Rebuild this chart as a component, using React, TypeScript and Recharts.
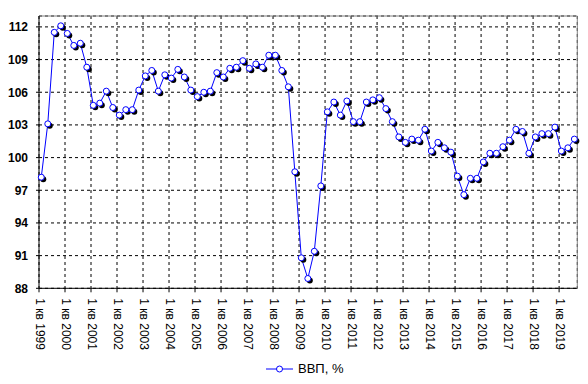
import React from 'react';
import {
  LineChart,
  Line,
  XAxis,
  YAxis,
  CartesianGrid,
  ReferenceLine,
} from 'recharts';

// year labels for the first quarter of each year
const TICK_LABELS = [
  '1 кв 1999', '1 кв 2000', '1 кв 2001', '1 кв 2002', '1 кв 2003', '1 кв 2004',
  '1 кв 2005', '1 кв 2006', '1 кв 2007', '1 кв 2008', '1 кв 2009', '1 кв 2010',
  '1 кв 2011', '1 кв 2012', '1 кв 2013', '1 кв 2014', '1 кв 2015', '1 кв 2016',
  '1 кв 2017', '1 кв 2018', '1 кв 2019',
];

// ВВП, % к соответствующему кварталу прошлого года, 1 кв 1999 .. 3 кв 2019
const GDP = [
  98.2, 103.1, 111.5, 112.1, // 1999
  111.4, 110.3, 110.5, 108.3, // 2000
  104.8, 105.0, 106.1, 104.6, // 2001
  103.9, 104.4, 104.4, 106.2, // 2002
  107.5, 108.0, 106.1, 107.6, // 2003
  107.3, 108.1, 107.4, 106.2, // 2004
  105.6, 106.0, 106.1, 107.8, // 2005
  107.4, 108.2, 108.3, 108.9, // 2006
  108.2, 108.6, 108.3, 109.4, // 2007
  109.4, 108.0, 106.5, 98.7, // 2008
  90.8, 88.9, 91.4, 97.4, // 2009
  104.2, 105.1, 103.9, 105.2, // 2010
  103.3, 103.3, 105.1, 105.3, // 2011
  105.5, 104.5, 103.3, 101.9, // 2012
  101.4, 101.7, 101.6, 102.6, // 2013
  100.6, 101.4, 100.9, 100.5, // 2014
  98.3, 96.6, 98.1, 98.1, // 2015
  99.6, 100.4, 100.4, 101.0, // 2016
  101.6, 102.6, 102.4, 100.4, // 2017
  101.9, 102.2, 102.2, 102.8, // 2018
  100.6, 100.9, 101.7, // 2019
];

const Y_TICKS = [88, 91, 94, 97, 100, 103, 106, 109, 112];

// the original draws its tick marks slightly left of the points
const TICK_SHIFT = -0.35;
const X_MAX = 82.45;

const FONT = '"Liberation Sans", Arial, sans-serif';
const BLUE = '#0000ff';

const data = GDP.map((v, i) => ({ q: i, gdp: v }));
const xTicks = TICK_LABELS.map((_, k) => k * 4 + TICK_SHIFT);

function ShadowDot(props: { cx?: number; cy?: number; index?: number }) {
  const { cx, cy, index } = props;
  if (cx == null || cy == null) return null;
  return (
    <g key={`dot-${index}`}>
      <circle cx={cx + 2} cy={cy + 2} r={3} fill="#000" />
      <circle cx={cx} cy={cy} r={3} fill="#fff" stroke={BLUE} strokeWidth={1} />
    </g>
  );
}

function XTick(props: { x?: number; y?: number; index?: number }) {
  const { x = 0, y = 0, index = 0 } = props;
  const tx = x + 1;
  return (
    <text
      x={tx}
      y={y}
      transform={`rotate(90, ${tx}, ${y})`}
      textAnchor="start"
      dominantBaseline="central"
      fontFamily={FONT}
      fontSize={12}
      fill="#000"
    >
      {TICK_LABELS[index]}
    </text>
  );
}

export default function App() {
  return (
    <div
      style={{
        position: 'absolute',
        left: 0,
        top: 0,
        width: 588,
        height: 384,
        background: '#fff',
      }}
    >
      <LineChart
        width={588}
        height={384}
        data={data}
        margin={{ top: 16, right: 10.7, left: 0, bottom: 33.7 }}
      >
        <CartesianGrid stroke="#000" strokeDasharray="3 3" />
        <ReferenceLine y={113} stroke="#808080" />
        <ReferenceLine x={X_MAX} stroke="#808080" />
        <XAxis
          type="number"
          dataKey="q"
          domain={[TICK_SHIFT, X_MAX]}
          ticks={xTicks}
          interval={0}
          height={62}
          tickSize={4}
          tickMargin={6}
          axisLine={{ stroke: '#000' }}
          tickLine={{ stroke: '#000' }}
          tick={<XTick />}
        />
        <YAxis
          type="number"
          domain={[88, 113]}
          ticks={Y_TICKS}
          interval={0}
          width={39}
          tickSize={3}
          tickMargin={8}
          axisLine={{ stroke: '#000' }}
          tickLine={{ stroke: '#000' }}
          tick={{ fill: '#000', fontSize: 12, fontWeight: 'bold', fontFamily: FONT }}
        />
        <Line
          type="linear"
          dataKey="gdp"
          stroke={BLUE}
          strokeWidth={1}
          dot={<ShadowDot />}
          activeDot={false}
          isAnimationActive={false}
        />
      </LineChart>
      <div
        style={{
          position: 'absolute',
          left: 266,
          top: 361,
          display: 'flex',
          alignItems: 'center',
          fontFamily: FONT,
          fontSize: 13,
          color: '#000',
        }}
      >
        <svg width={28} height={10}>
          <line x1={0} y1={5} x2={27} y2={5} stroke={BLUE} strokeWidth={1} />
          <circle cx={13.5} cy={5} r={3} fill="#fff" stroke={BLUE} strokeWidth={1} />
        </svg>
        <span style={{ marginLeft: 4 }}>ВВП, %</span>
      </div>
    </div>
  );
}
